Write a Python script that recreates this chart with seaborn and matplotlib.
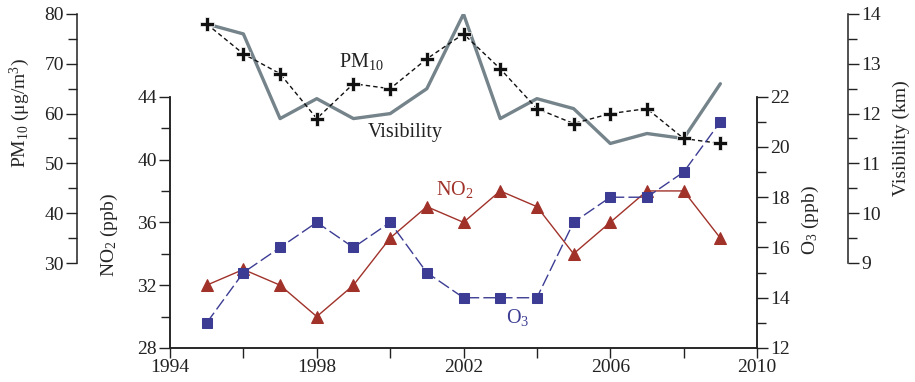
import numpy as np
import matplotlib
matplotlib.use('Agg')
import matplotlib.pyplot as plt
from matplotlib.ticker import MultipleLocator, FixedLocator
import seaborn as sns

sns.set_style('ticks')
plt.rcParams['font.family'] = ['Liberation Serif', 'DejaVu Serif']
plt.rcParams['mathtext.fontset'] = 'custom'
plt.rcParams['mathtext.rm'] = 'Liberation Serif'
plt.rcParams['mathtext.it'] = 'Liberation Serif:italic'
plt.rcParams['font.size'] = 14

years = np.arange(1995, 2010)
pm10 = [78, 72, 68, 59, 66, 65, 71, 76, 69, 61, 58, 60, 61, 55, 54]
visibility = [13.8, 13.6, 11.9, 12.3, 11.9, 12.0, 12.5, 14.0, 11.9, 12.3, 12.1, 11.4, 11.6, 11.5, 12.6]
no2 = [32, 33, 32, 30, 32, 35, 37, 36, 38, 37, 34, 36, 38, 38, 35]
o3 = [13, 15, 16, 17, 16, 17, 15, 14, 14, 14, 17, 18, 18, 19, 21]
year_ticks = [1994, 1998, 2002, 2006, 2010]
year_minor = [1996, 2000, 2004, 2008]

c_vis = '#75838a'
c_no2 = '#a0322a'
c_o3 = '#3c3c94'
ink = '#222222'
W, H = 915, 382

fig = plt.figure(figsize=(9.15, 3.82), dpi=100)

# outer axes: PM10 (left) and visibility (right)
ax_pm = fig.add_axes([77 / W, 1 - 263 / H, (848 - 77) / W, (263 - 14) / H])
ax_pm.patch.set_alpha(0)
ax_vis = ax_pm.twinx()
ax_vis.patch.set_alpha(0)
xl = (1994 - 93 / 36.69, 1994 + 678 / 36.69)

sns.lineplot(x=years, y=visibility, ax=ax_vis, color=c_vis, linewidth=2.4)
sns.lineplot(x=years, y=pm10, ax=ax_pm, color='#111111', linestyle=(0, (3.2, 2.2)), linewidth=1.0,
             marker='P', markersize=10, markeredgecolor='white', markeredgewidth=0.5)
ax_vis.set_zorder(1)
ax_pm.set_zorder(2)

for a in (ax_pm, ax_vis):
    a.set_xlim(*xl)
    a.set_xticks([])
    a.spines['top'].set_visible(False)
    a.spines['bottom'].set_visible(False)
ax_pm.spines['right'].set_visible(False)
ax_vis.spines['left'].set_visible(False)
ax_pm.set_ylim(30, 80)
ax_vis.set_ylim(9, 14)
ax_pm.yaxis.set_major_locator(MultipleLocator(10))
ax_pm.yaxis.set_minor_locator(MultipleLocator(5))
ax_vis.yaxis.set_major_locator(MultipleLocator(1))
ax_vis.yaxis.set_minor_locator(MultipleLocator(0.5))
ax_pm.set_ylabel(r'PM$_{10}$ (μg/m$^3$)')
ax_pm.yaxis.set_label_coords(-0.058, 0.60)
ax_vis.set_ylabel('Visibility (km)')
ax_vis.yaxis.set_label_coords(1.058, 0.50)

# inner axes: NO2 (left) and O3 (right)
ax_no2 = fig.add_axes([170 / W, 1 - 348 / H, (757 - 170) / W, (348 - 96.7) / H])
ax_no2.patch.set_alpha(0)
ax_no2.set_zorder(3)
ax_o3 = ax_no2.twinx()
ax_o3.patch.set_alpha(0)

sns.lineplot(x=years, y=no2, ax=ax_no2, color=c_no2, linewidth=1.0, marker='^',
             markersize=9, markeredgecolor=c_no2)
sns.lineplot(x=years, y=o3, ax=ax_o3, color=c_o3, linewidth=1.0, linestyle=(0, (9, 3)),
             marker='s', markersize=7, markeredgecolor=c_o3)

ax_no2.set_xlim(1994, 2010)
ax_no2.set_ylim(28, 44)
ax_o3.set_ylim(12, 22)
ax_no2.xaxis.set_major_locator(FixedLocator(year_ticks))
ax_no2.xaxis.set_minor_locator(FixedLocator(year_minor))
ax_no2.yaxis.set_major_locator(MultipleLocator(4))
ax_no2.yaxis.set_minor_locator(MultipleLocator(2))
ax_o3.yaxis.set_major_locator(MultipleLocator(2))
ax_o3.yaxis.set_minor_locator(MultipleLocator(1))
for a in (ax_no2, ax_o3):
    a.spines['top'].set_visible(False)
ax_no2.set_ylabel(r'NO$_2$ (ppb)')
ax_no2.yaxis.set_label_coords(-0.085, 0.45)
ax_o3.set_ylabel(r'O$_3$ (ppb)')
ax_o3.yaxis.set_label_coords(1.073, 0.51)
ax_no2.set_xlabel('')

for a in (ax_pm, ax_vis, ax_no2, ax_o3):
    a.tick_params(which='major', direction='out', length=8, width=1, color=ink,
                  labelsize=14, pad=1.5, labelcolor=ink)
    a.tick_params(which='minor', direction='out', length=6.5, width=1, color=ink)
    for s in a.spines.values():
        s.set_linewidth(1.1)
        s.set_color(ink)
ax_no2.tick_params(axis='x', which='both', length=7, pad=1)

# series labels
fig.text(361 / W, 1 - 62 / H, r'PM$_{10}$', ha='center', va='center', fontsize=14.5, color=ink)
fig.text(405 / W, 1 - 133 / H, 'Visibility', ha='center', va='center', fontsize=14.5, color=ink)
fig.text(455 / W, 1 - 190 / H, r'NO$_2$', ha='center', va='center', fontsize=14.5, color=c_no2)
fig.text(518 / W, 1 - 318 / H, r'O$_3$', ha='center', va='center', fontsize=14.5, color=c_o3)

fig.savefig('out.png', dpi=100)
